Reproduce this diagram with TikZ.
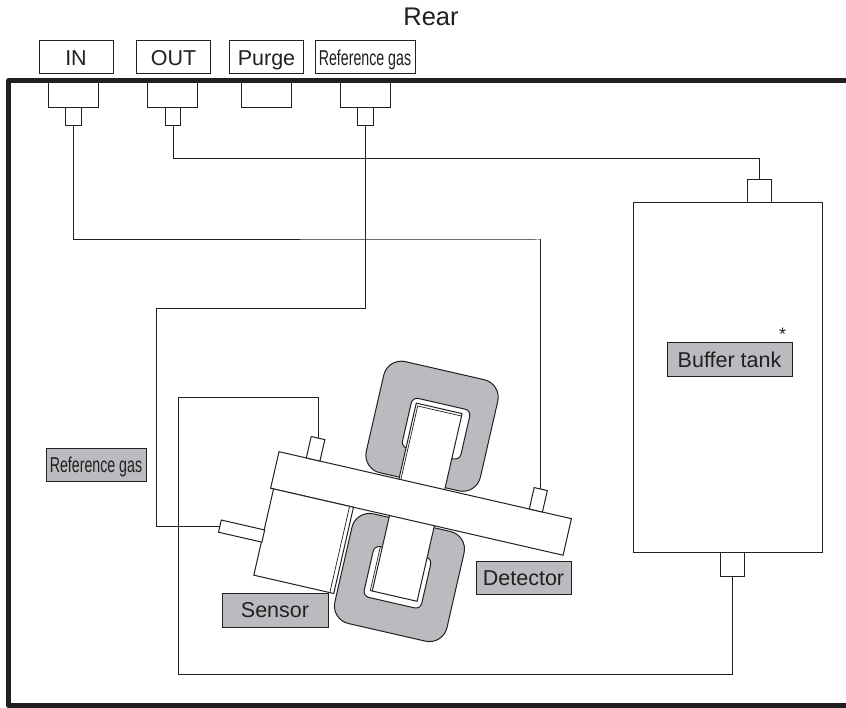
\documentclass[tikz,border=0pt]{standalone}
\usepackage{fontspec}
\setmainfont{Liberation Sans}
\newfontfamily\narrowfont[FakeStretch=.66]{Liberation Sans}
\definecolor{ink}{HTML}{231F20}
\definecolor{coilgray}{HTML}{B9BBBE}
\tikzset{
  pipe/.style={draw=ink,line width=1pt},
  wall/.style={draw=ink,line width=4.6pt,line join=round},
  toplabel/.style={draw=ink,line width=1pt,fill=white,text=ink,inner sep=0pt,outer sep=0pt,
    minimum height=33pt,text height=15.4pt,text depth=0pt,font=\fontsize{21.5}{25}\selectfont},
  graylabel/.style={toplabel,fill=coilgray},
  narrowtext/.style={font=\fontsize{21.5}{25}\selectfont\narrowfont},
  port/.style={draw=ink,line width=1pt,fill=white,inner sep=0pt,outer sep=0pt},
  block/.style={port,minimum width=50pt,minimum height=25pt},
  nipple/.style={port,minimum width=15.5pt,minimum height=18pt},
  tiltport/.style={port,transform shape},
  coil/.style={draw=ink,line width=1pt,fill=coilgray,rounded corners=18pt},
  pocket/.style={draw=ink,line width=1pt,fill=white,rounded corners=6pt},
  part/.style={draw=ink,line width=1pt,fill=white},
  thinline/.style={draw=ink,line width=.7pt},
}
\begin{document}
\begin{tikzpicture}[x=1pt,y=-1pt]
\useasboundingbox (0,0) rectangle (846,708);
\node[text=ink,font=\fontsize{25.5}{29}\selectfont,inner sep=0pt] (rear) at (431,16.7) {Rear};
% rear panel
\draw[wall] (846,80.5) -| (8.7,705.5) -- (846,705.5);
\node[toplabel,minimum width=74pt] (inlabel) at (76,57.5) {IN};
\node[toplabel,minimum width=74pt] (outlabel) at (173.5,57.5) {OUT};
\node[toplabel,minimum width=74pt] (purgelabel) at (266.5,57.5) {Purge};
\node[toplabel,narrowtext,minimum width=100pt] (reflabel) at (365,57.5) {Reference gas};
\foreach \n/\x in {inblock/73,outblock/172,purgeblock/266,refblock/365}\node[block] (\n) at (\x,95.5) {};
\foreach \n/\x in {inport/73.7,outport/173,refport/365.7}\node[nipple] (\n) at (\x,117) {};
% buffer tank
\node[part,minimum width=189.5pt,minimum height=349pt,inner sep=0pt,outer sep=0pt] (tank) at (728.2,377.5) {};
\node[port,minimum width=24.5pt,minimum height=23pt] (tankin) at (759.7,191.5) {};
\node[port,minimum width=23.5pt,minimum height=24pt] (tankout) at (732.7,564) {};
\node[graylabel,minimum width=125pt,minimum height=34pt] (tanklabel) at (729.5,360) {Buffer tank};
\node[text=ink,font=\fontsize{18}{20}\selectfont,inner sep=0pt] (star) at (782.5,334) {*};
% sensor and detector
\begin{scope}[shift={(279,451.7)},rotate=-12.9]
\draw[coil] (85,-116) rectangle (202,-2);
\draw[pocket] (118,-83) rectangle (178,-32);
\draw[part] (123,0) -- (123,-78) -- (170,-78) -- (170,0);
\draw[thinline] (125,0) -- (125,-75.5) -- (170,-75.5);
\draw[coil] (88,39.5) rectangle (203,152);
\draw[pocket] (114,70) rectangle (173,122);
\draw[part] (122,37.5) -- (122,115) -- (168,115) -- (168,37.5);
\draw[thinline] (120,70) -- (120,115) -- (122,115);
\node[part,transform shape,minimum width=300pt,minimum height=37.5pt,inner sep=0pt,outer sep=0pt] (bar) at (150,18.75) {};
\node[part,transform shape,minimum width=82pt,minimum height=88.5pt,inner sep=0pt,outer sep=0pt] (sensor) at (44,81.75) {};
\draw[thinline] (81,37.5) -- (81,126);
\node[tiltport,minimum width=14pt,minimum height=22pt] (barport) at (35,-11) {};
\node[tiltport,minimum width=13.5pt,minimum height=22pt] (detport) at (263.5,-11) {};
\node[tiltport,minimum width=44.5pt,minimum height=12.5pt] (sensorport) at (-18.75,85.75) {};
\end{scope}
\node[graylabel,minimum width=95pt] (detlabel) at (523.5,577.5) {Detector};
\node[graylabel,minimum width=106pt,minimum height=34pt] (sensorlabel) at (275,610) {Sensor};
\node[graylabel,narrowtext,minimum width=100pt] (gaslabel) at (96,464.7) {Reference gas};
% piping
\coordinate (inbend) at (540,240);
\coordinate (outbend) at (759.7,159);
\coordinate (refbend) at (156,309);
\coordinate (loopbot) at (178,674);
\coordinate (looptop) at (178,398);
\draw[pipe] (inport.south) |- (inbend) -| (detport.north);
\draw[pipe] (outport.south) |- (outbend) -- (tankin.north);
\draw[pipe] (refport.south) |- (refbend) |- (sensorport.west);
\draw[pipe] (tankout.south) |- (loopbot) -- (looptop) -| (barport.north);
\end{tikzpicture}
\end{document}
